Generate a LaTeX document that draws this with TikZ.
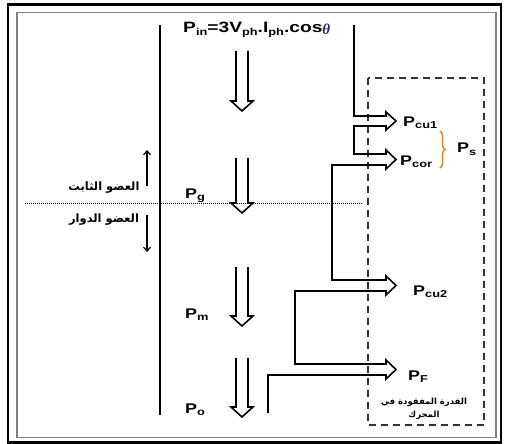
\documentclass[tikz,border=0pt]{standalone}
\usepackage{fontspec}
\setmainfont{Liberation Sans}
\newfontfamily\wfont[FakeStretch=1.28]{Liberation Sans}
\newfontfamily\thfont{Liberation Serif}
\newfontfamily\arabicfont[Script=Arabic]{DejaVu Sans}
\TeXXeTstate=1
\usetikzlibrary{arrows.meta,decorations.pathreplacing}
\newcommand\sbs[1]{\raisebox{-2.5pt}{\fontsize{10}{10}\selectfont #1}}
\newcommand\dblarrow[4]{% name, x, ytop, ywing
  \coordinate (#1) at (#2,#3);
  \draw[flow] (#2-6,#3) -- (#2-6,#4) -- (#2-11,#4) -- (#2,#4+10) -- (#2+11,#4) -- (#2+6,#4) -- (#2+6,#3);
}
\definecolor{bracecol}{RGB}{214,140,40}
\definecolor{thcol}{RGB}{30,40,100}
\definecolor{dashcol}{RGB}{50,50,50}
\tikzset{
  flow/.style={line width=1.6pt, line join=miter, black},
  plab/.style={inner sep=0pt, anchor=base west, font=\wfont\bfseries\fontsize{14}{14}\selectfont},
  artext/.style={inner sep=0pt, font=\arabicfont\bfseries\fontsize{11.5}{14}\selectfont, align=center},
  smallarrow/.style={line width=1.2pt, -{Straight Barb[length=4pt,width=7pt]}}
}
\begin{document}
\begin{tikzpicture}[x=1pt,y=-1pt]
\useasboundingbox (0,0) rectangle (512,444);
% frame
\draw[line width=2.2pt] (8,4.5) rectangle (501,442.5);
\draw[line width=1.2pt, gray] (17,12.5) rectangle (496,437.5);
% dashed loss box
\draw[line width=1.3pt, dashcol, dash pattern=on 7pt off 5pt] (368,78) rectangle (484,425);
% main vertical line
\draw[line width=1.6pt] (160,25) coordinate (vtop) -- (160,415) coordinate (vbot);
% dotted separator
\draw[line width=0.7pt, dash pattern=on 1pt off 1pt] (25,203) coordinate (dl) -- (362,203) coordinate (dr);
% stator/rotor arrows
\coordinate (ua1) at (147,186); \coordinate (ua2) at (147,150);
\coordinate (da1) at (147,215); \coordinate (da2) at (147,252);
\draw[smallarrow] (ua1) -- (ua2);
\draw[smallarrow] (da1) -- (da2);
\node[artext] (stator) at (104,188) {\beginR العضو الثابت\endR};
\node[artext] (rotor) at (104,220) {\beginR العضو الدوار\endR};
% central power arrows
\dblarrow{c1}{242}{51}{101}
\dblarrow{c2}{242}{158}{203}
\dblarrow{c3}{242}{267}{316}
\dblarrow{c4}{242}{358}{407}
% labels
\node[plab, font=\wfont\bfseries\fontsize{15}{15}\selectfont] (pin) at (183,33) {P\sbs{in}=3V\sbs{ph}.I\sbs{ph}.cos\raisebox{-2pt}{\textcolor{thcol}{\thfont\itshape θ}}};
\node[plab] (pg) at (185,198) {P\sbs{g}};
\node[plab] (pm) at (185,318) {P\sbs{m}};
\node[plab] (po) at (185,413) {P\sbs{o}};
\node[plab] (pcu1) at (403,126) {P\sbs{cu1}};
\node[plab] (pcor) at (400,165) {P\sbs{cor}};
\node[plab] (ps) at (457,153) {P\sbs{s}};
\node[plab] (pcu2) at (413,295) {P\sbs{cu2}};
\node[plab] (pf) at (408,380) {P\sbs{F}};
% brace
\draw[bracecol, line width=1.5pt, decorate, decoration={brace, amplitude=5pt}] (440,131) coordinate (b1) -- (440,168) coordinate (b2);
% losses flow ribbon
\coordinate (lstart) at (354,25);
\coordinate (lend) at (268,413);
\draw[flow] (lstart) -- (354,116) -- (386,116) -- (386,112) -- (396,121) coordinate (t1) -- (386,130) -- (386,126)
  -- (354,126) -- (354,154) -- (386,154) -- (386,150) -- (396,159.5) coordinate (t2) -- (386,169) -- (386,165)
  -- (332,165) -- (332,280) -- (386,280) -- (386,276) -- (396,285.5) coordinate (t3) -- (386,295) -- (386,291)
  -- (295,291) -- (295,364) -- (386,364) -- (386,360) -- (396,369.5) coordinate (t4) -- (386,379) -- (386,375)
  -- (268,375) -- (lend);
% box text
\node[artext, font=\arabicfont\bfseries\fontsize{8.5}{13}\selectfont] (loss) at (424,409) {\beginR القدرة المفقودة في\endR\\\beginR المحرك\endR};
\end{tikzpicture}
\end{document}
